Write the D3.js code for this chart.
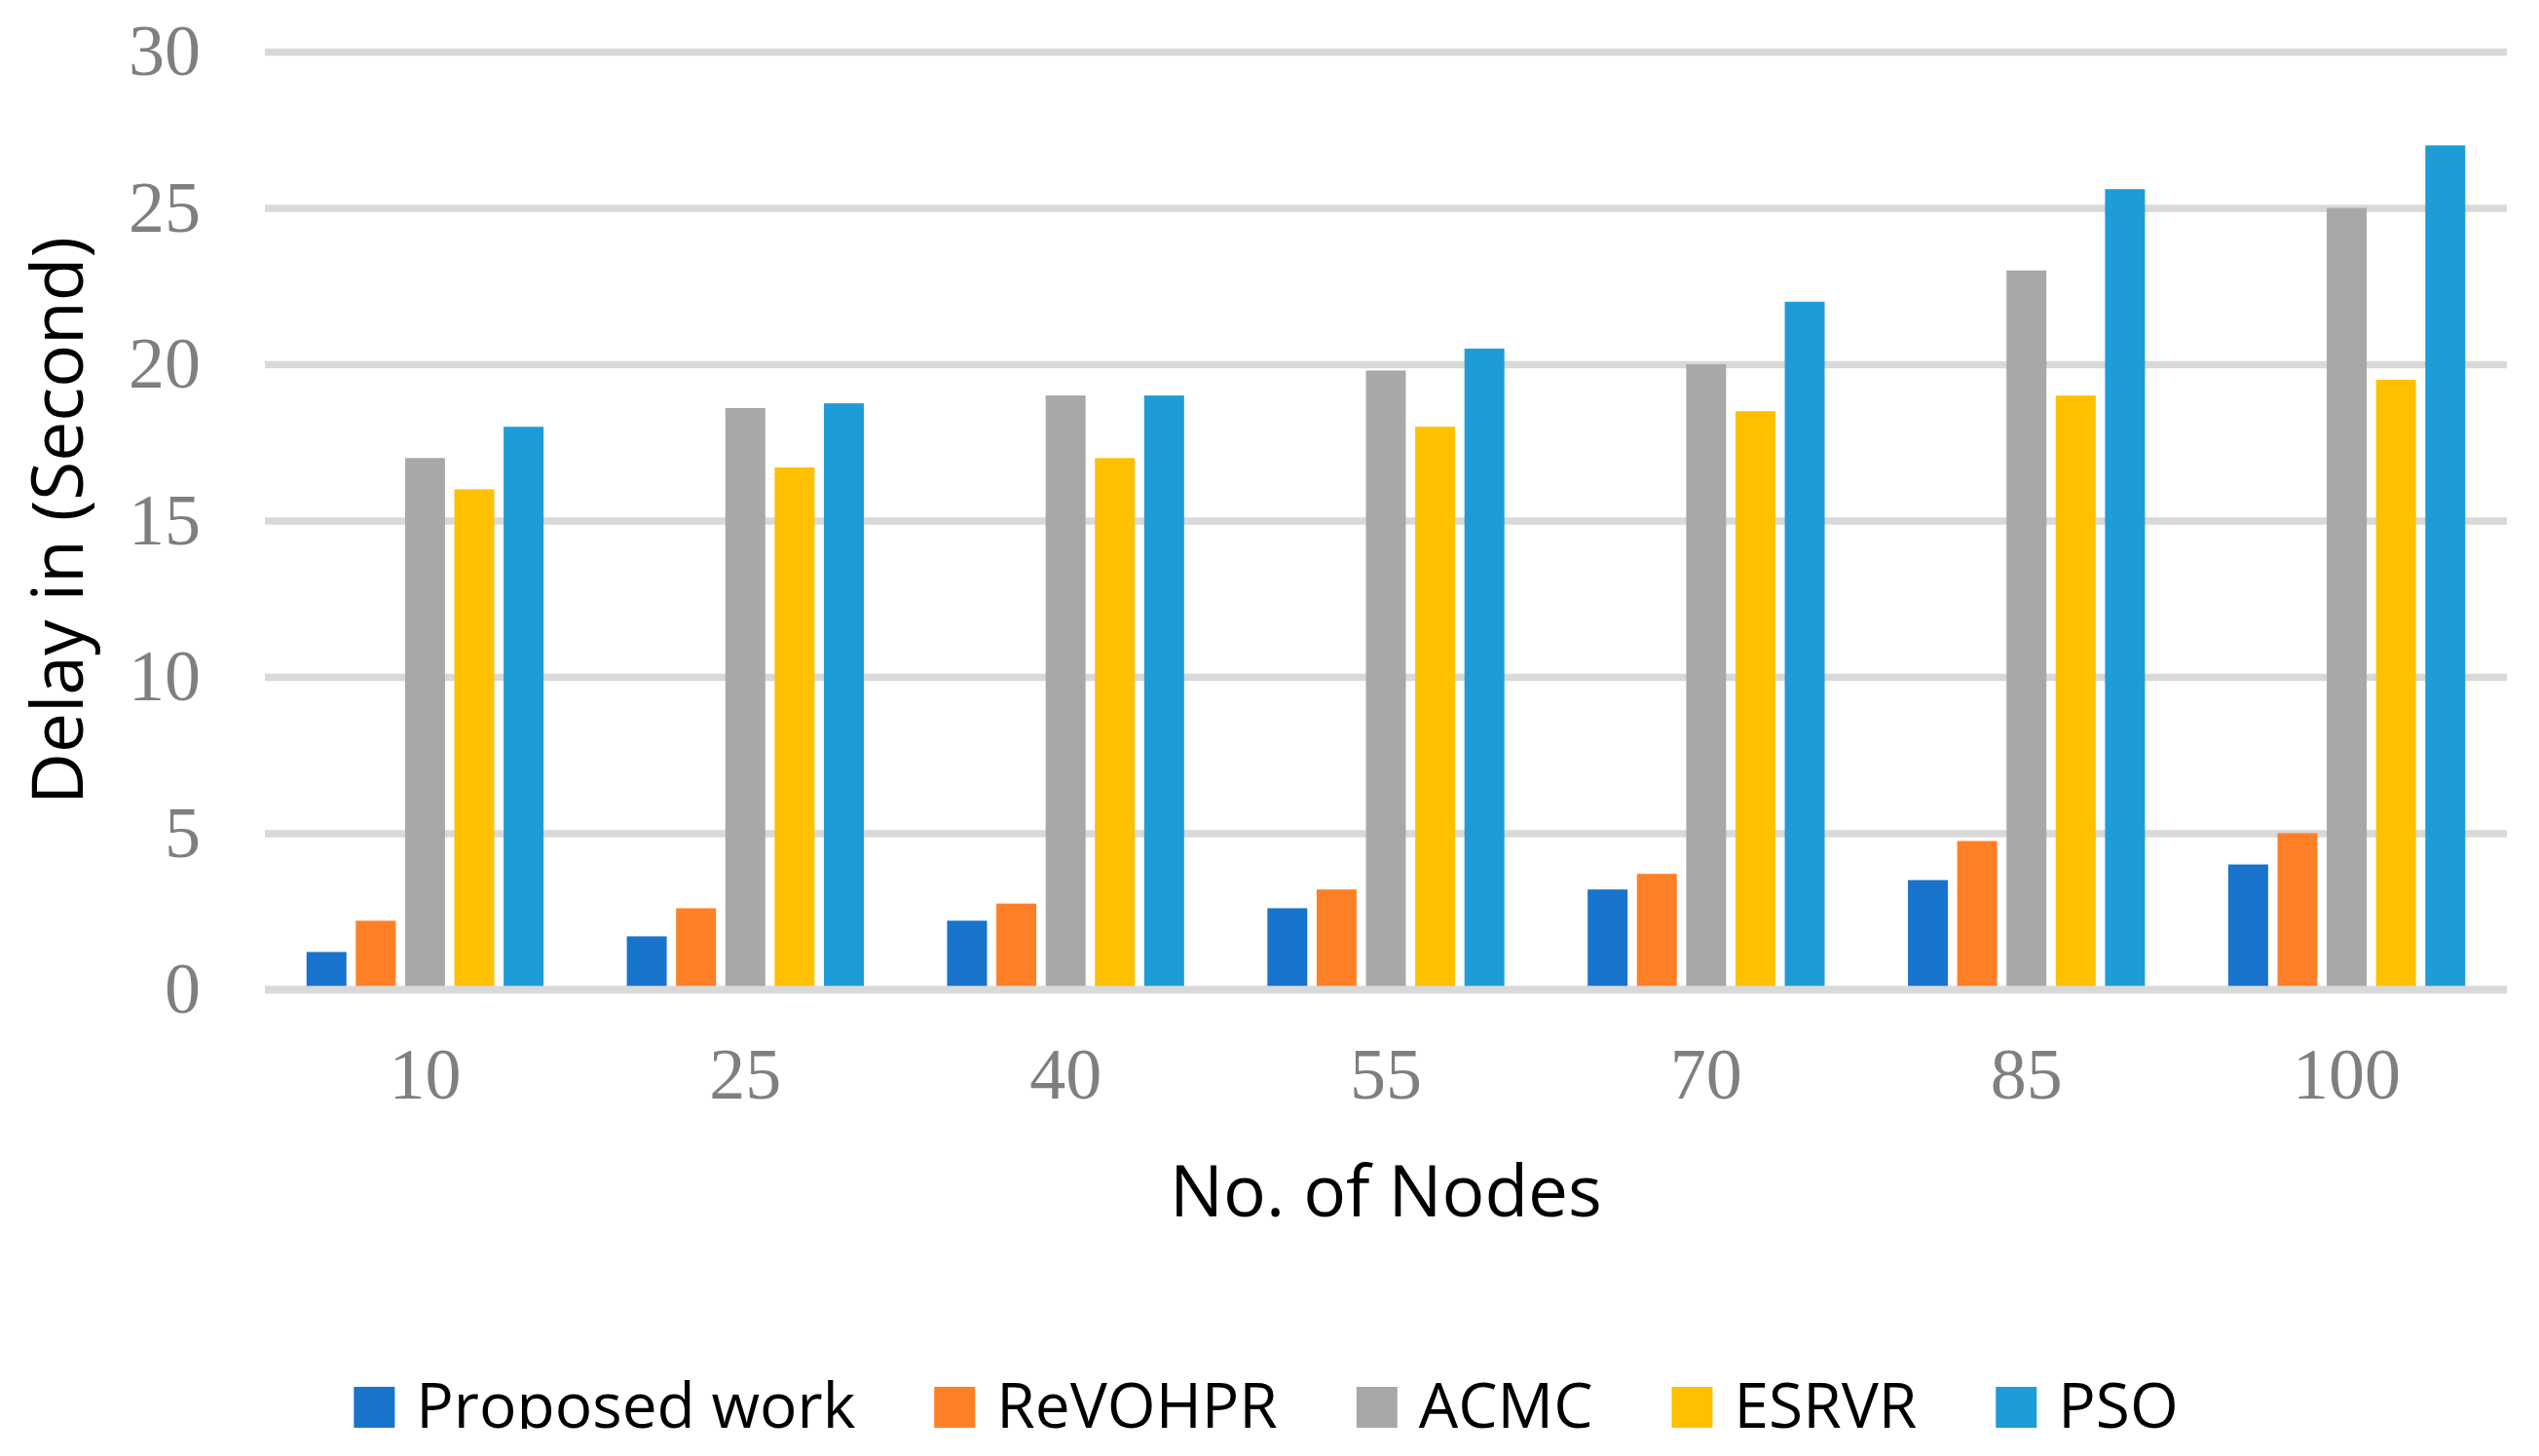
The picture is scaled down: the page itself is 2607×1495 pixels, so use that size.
<!DOCTYPE html>
<html>
<head>
<meta charset="utf-8">
<script src="https://cdn.jsdelivr.net/npm/d3@7"></script>
<style>
  body { margin: 0; background: #fff; }
  svg { display: block; }
</style>
</head>
<body>
<svg id="chart" width="2607" height="1495"></svg>
<script>
// node counts on the x axis
const nodes = ['10', '25', '40', '55', '70', '85', '100'];
const seriesNames = ['Proposed work', 'ReVOHPR', 'ACMC', 'ESRVR', 'PSO'];
// delay in seconds, one array per method
const proposedWork = [1.2, 1.7, 2.2, 2.6, 3.2, 3.5, 4.0];
const revohpr = [2.2, 2.6, 2.75, 3.2, 3.7, 4.75, 5.0];
const acmc = [17, 18.6, 19, 19.8, 20, 23, 25];
const esrvr = [16, 16.7, 17, 18, 18.5, 19, 19.5];
const pso = [18, 18.75, 19, 20.5, 22, 25.6, 27];
const yTicks = [0, 5, 10, 15, 20, 25, 30];

const colors = ['#1874cd', '#ff7f27', '#a8a8a8', '#ffc000', '#1e9cd8'];
const allSeries = [proposedWork, revohpr, acmc, esrvr, pso];

const svg = d3.select('#chart');
const plotLeft = 272, plotRight = 2574, plotTop = 53, plotBottom = 1016;

const y = d3.scaleLinear().domain([0, 30]).range([plotBottom, plotTop]);

// group band per node count, inner band per method
const x0 = d3.scaleBand()
  .domain(nodes)
  .range([plotLeft, plotRight])
  .paddingInner(0.26)
  .paddingOuter(0.13);

const x1 = d3.scaleBand()
  .domain(seriesNames)
  .range([0, x0.bandwidth()])
  .paddingInner(0.19);

// gridlines + y labels
const yAxis = svg.append('g')
  .attr('transform', `translate(${plotLeft},0)`)
  .call(d3.axisLeft(y).tickValues(yTicks).tickSize(-(plotRight - plotLeft)).tickPadding(66));
yAxis.select('.domain').remove();
yAxis.selectAll('.tick line').attr('stroke', '#d9d9d9').attr('stroke-width', 7.5);
yAxis.selectAll('.tick text')
  .attr('fill', '#7f7f7f')
  .style('font-family', '"Liberation Serif", "Times New Roman", serif')
  .style('font-size', '74px');

// bars
const groups = svg.append('g').selectAll('g')
  .data(nodes)
  .join('g')
  .attr('transform', d => `translate(${x0(d)},0)`);

groups.selectAll('rect')
  .data((d, i) => seriesNames.map((name, s) => ({ name, value: allSeries[s][i], color: colors[s] })))
  .join('rect')
  .attr('x', d => x1(d.name))
  .attr('width', x1.bandwidth())
  .attr('y', d => y(d.value))
  .attr('height', d => y(0) - y(d.value))
  .attr('fill', d => d.color);

// zero line drawn over the bars
svg.append('line')
  .attr('x1', plotLeft).attr('x2', plotRight)
  .attr('y1', y(0)).attr('y2', y(0))
  .attr('stroke', '#d9d9d9').attr('stroke-width', 7.5);

// x labels
const xAxis = svg.append('g')
  .attr('transform', `translate(0,${plotBottom})`)
  .call(d3.axisBottom(x0).tickSize(0).tickPadding(59));
xAxis.select('.domain').remove();
xAxis.selectAll('.tick text')
  .attr('fill', '#7f7f7f')
  .style('font-family', '"Liberation Serif", "Times New Roman", serif')
  .style('font-size', '74px');

// axis titles
svg.append('text')
  .attr('x', (plotLeft + plotRight) / 2)
  .attr('y', 1249)
  .attr('text-anchor', 'middle')
  .style('font-family', '"Open Sans", sans-serif')
  .style('font-size', '73px')
  .text('No. of Nodes');

svg.append('text')
  .attr('transform', `translate(85,${(plotTop + plotBottom) / 2}) rotate(-90)`)
  .attr('text-anchor', 'middle')
  .style('font-family', '"Open Sans", sans-serif')
  .style('font-size', '73px')
  .text('Delay in (Second)');

// legend, bottom clipped at the baseline like the source image
svg.append('defs').append('clipPath').attr('id', 'legclip')
  .append('rect').attr('x', 0).attr('y', 1300).attr('width', 2607).attr('height', 167);

const legend = svg.append('g').attr('clip-path', 'url(#legclip)');
const sw = 42, textGap = 22, itemGap = 81, baseY = 1466;
let cx = 0;
const items = seriesNames.map((name, i) => {
  const g = legend.append('g');
  g.append('rect').attr('x', 0).attr('y', baseY - sw).attr('width', sw).attr('height', sw).attr('fill', colors[i]);
  const t = g.append('text')
    .attr('x', sw + textGap)
    .attr('y', baseY)
    .style('font-family', '"Open Sans", sans-serif')
    .style('font-size', '64px')
    .text(name);
  const w = sw + textGap + t.node().getComputedTextLength();
  const item = { g, x: cx };
  cx += w + itemGap;
  return item;
});
const total = cx - itemGap;
const start = 1300 - total / 2;
items.forEach(it => it.g.attr('transform', `translate(${start + it.x},0)`));
</script>
</body>
</html>
